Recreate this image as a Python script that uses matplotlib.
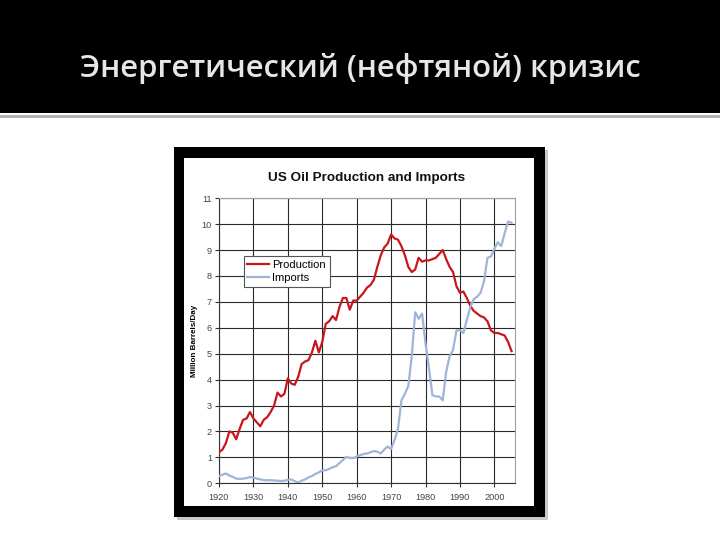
import matplotlib
matplotlib.use('Agg')
import matplotlib.pyplot as plt
from matplotlib.patches import Rectangle

# Data (million barrels per day)
years = list(range(1920, 2006))
production = [1.2, 1.3, 1.55, 2.0, 1.95, 1.7, 2.1, 2.45, 2.5, 2.75,
              2.5, 2.35, 2.2, 2.45, 2.55, 2.75, 3.0, 3.5, 3.35, 3.45,
              4.05, 3.85, 3.8, 4.1, 4.6, 4.7, 4.75, 5.05, 5.5, 5.05,
              5.45, 6.15, 6.25, 6.45, 6.3, 6.8, 7.15, 7.15, 6.7, 7.05,
              7.05, 7.2, 7.35, 7.55, 7.65, 7.85, 8.35, 8.8, 9.1, 9.25,
              9.6, 9.45, 9.4, 9.15, 8.8, 8.35, 8.15, 8.25, 8.7, 8.55,
              8.6, 8.6, 8.65, 8.7, 8.85, 9.0, 8.65, 8.35, 8.15, 7.6,
              7.35, 7.4, 7.15, 6.85, 6.65, 6.55, 6.45, 6.4, 6.25, 5.9,
              5.8, 5.8, 5.75, 5.7, 5.45, 5.1]
imports = [0.28, 0.33, 0.38, 0.3, 0.25, 0.18, 0.17, 0.18, 0.2, 0.24,
           0.22, 0.18, 0.15, 0.12, 0.12, 0.12, 0.11, 0.1, 0.09, 0.1,
           0.13, 0.15, 0.08, 0.03, 0.1, 0.15, 0.23, 0.28, 0.36, 0.42,
           0.5, 0.5, 0.55, 0.62, 0.66, 0.78, 0.9, 1.02, 0.98, 0.97,
           1.03, 1.08, 1.13, 1.15, 1.2, 1.24, 1.22, 1.15, 1.3, 1.42,
           1.32, 1.67, 2.1, 3.2, 3.45, 3.75, 4.9, 6.6, 6.35, 6.55,
           5.4, 4.45, 3.4, 3.35, 3.35, 3.2, 4.3, 4.9, 5.15, 5.9,
           5.9, 5.8, 6.3, 6.8, 7.1, 7.2, 7.35, 7.8, 8.7, 8.75,
           9.05, 9.3, 9.15, 9.65, 10.1, 10.05]
xticks = list(range(1920, 2001, 10))
yticks = list(range(0, 12))

slide_title = 'Энергетический (нефтяной) кризис'
chart_title = 'US Oil Production and Imports'

W, H = 720, 540


def rect(x0, y0, x1, y1, **kw):
    # pixel box (top-left origin) -> figure rectangle
    r = Rectangle((x0 / W, 1 - y1 / H), (x1 - x0) / W, (y1 - y0) / H,
                  transform=fig.transFigure, **kw)
    fig.add_artist(r)


fig = plt.figure(figsize=(7.2, 5.4), dpi=100, facecolor='white')

# slide header
rect(0, 0, 720, 113, facecolor='black', edgecolor='none', zorder=0)
rect(0, 115, 720, 118, facecolor='#b4b4b4', edgecolor='none', zorder=0)
fig.text(0.5, 1 - 69 / H, slide_title, ha='center', va='center',
         color='#e6e6e6', fontsize=22.4, family='Open Sans', fontweight='semibold')

# picture frame with shadow
rect(177, 150, 548, 520, facecolor='#c8c8c8', edgecolor='none', zorder=0)
rect(174, 147, 545, 517, facecolor='black', edgecolor='none', zorder=0)
rect(184, 158, 534, 506, facecolor='white', edgecolor='none', zorder=0)

ax = fig.add_axes([219 / W, 1 - 483.3 / H, 296 / W, 285.1 / H])
ax.set_facecolor('white')

ax.plot(years, production, color='#c8161d', linewidth=1.6, label='Production', zorder=3)
ax.plot(years, imports, color='#9fb4d6', linewidth=1.6, label='Imports', zorder=3)

ax.set_xlim(1920, 2006)
ax.set_ylim(0, 11)
ax.set_xticks(xticks)
ax.set_yticks(yticks)
ax.grid(True, color='#2a2a2a', linewidth=0.8)
ax.set_axisbelow(True)

for s in ['left', 'bottom']:
    ax.spines[s].set_color('#333333')
    ax.spines[s].set_linewidth(0.8)
for s in ['top', 'right']:
    ax.spines[s].set_color('#a0a0a0')
    ax.spines[s].set_linewidth(0.8)

ax.tick_params(axis='both', labelsize=6.6, colors='#333333', length=3, width=0.8,
               labelcolor='#444444', pad=2)
ax.tick_params(axis='x', pad=4)
for lab in ax.get_xticklabels() + ax.get_yticklabels():
    lab.set_family('Liberation Sans')

ax.set_ylabel('Million Barrels/Day', fontsize=5.8, fontweight='bold',
              family='Liberation Sans', labelpad=3)

fig.text(366.7 / W, 1 - 177.7 / H, chart_title, ha='center', va='center',
         fontsize=9.7, fontweight='bold', family='Liberation Sans', color='#111111')

leg = ax.legend(loc='upper left', bbox_to_anchor=(0.083, 0.797), borderaxespad=0,
                fancybox=False, framealpha=1, edgecolor='#555555', borderpad=0.35,
                handlelength=1.9, handletextpad=0.35, labelspacing=0.25,
                prop={'family': 'Liberation Sans', 'size': 8})
leg.get_frame().set_linewidth(0.8)

fig.savefig('out.png', dpi=100, facecolor='white')
